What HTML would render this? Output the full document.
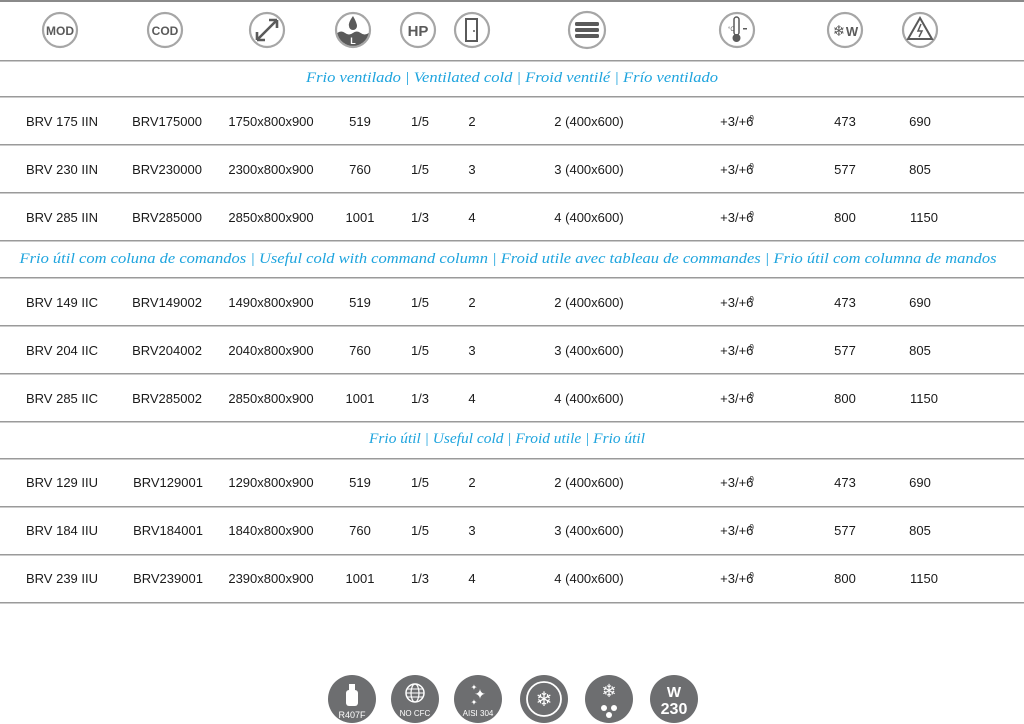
<!DOCTYPE html>
<html><head><meta charset="utf-8"><style>
html,body{margin:0;padding:0;background:#fff;width:1024px;height:724px;overflow:hidden}
svg{display:block}
.t{font-family:"Liberation Sans",sans-serif;font-size:13px;fill:#1a1a1a;text-anchor:middle}
.s{font-family:"Liberation Serif",serif;font-style:italic;font-size:15px;fill:#1ea4de;text-anchor:middle}
.ic{fill:none;stroke:#a6a6a6;stroke-width:2.2}
.it{font-family:"Liberation Sans",sans-serif;font-weight:bold;fill:#5a5a5a;text-anchor:middle}
.bt{font-family:"Liberation Sans",sans-serif;fill:#fff;text-anchor:middle}
</style></head><body>
<svg width="1024" height="724" viewBox="0 0 1024 724" xmlns="http://www.w3.org/2000/svg">
<rect x="0" y="0" width="1024" height="2" fill="#8a8a8a"/>
<g>
<circle class="ic" cx="60" cy="30" r="17"/><text class="it" x="60" y="35" font-size="12">MOD</text>
<circle class="ic" cx="165" cy="30" r="17"/><text class="it" x="165" y="35" font-size="12">COD</text>
<circle class="ic" cx="267" cy="30" r="17"/>
<path d="M257 40 L277 20 M257 40 l0 -8 M257 40 l8 0 M277 20 l-8 0 M277 20 l0 8" stroke="#5a5a5a" stroke-width="2.6" fill="none"/>
<circle class="ic" cx="353" cy="30" r="17"/>
<path d="M337.3 33 q3.9 -3 7.8 0 t7.8 0 t7.8 0 t8 0 A16 16 0 0 1 337.3 33 Z" fill="#5a5a5a"/>
<path d="M353 16 q-5 7 -4 10 a4 4 0 0 0 8 0 q0 -3 -4 -10z" fill="#5a5a5a"/>
<text x="353" y="44" font-size="9" font-weight="bold" fill="#fff" text-anchor="middle" font-family="Liberation Sans">L</text>
<circle class="ic" cx="418" cy="30" r="17"/><text class="it" x="418" y="36" font-size="15">HP</text>
<circle class="ic" cx="472" cy="30" r="17"/>
<rect x="466" y="19" width="11" height="22" fill="none" stroke="#5a5a5a" stroke-width="2"/><circle cx="474" cy="31" r="1" fill="#5a5a5a"/>
<circle class="ic" cx="587" cy="30" r="18"/>
<rect x="575" y="22" width="24" height="4" rx="1.5" fill="#5a5a5a"/><rect x="575" y="28" width="24" height="4" rx="1.5" fill="#5a5a5a"/><rect x="575" y="34" width="24" height="4" rx="1.5" fill="#5a5a5a"/>
<circle class="ic" cx="737" cy="30" r="17"/>
<rect x="734" y="17" width="5" height="18" rx="2.5" fill="none" stroke="#5a5a5a" stroke-width="1.5"/><circle cx="736.5" cy="38" r="4" fill="#5a5a5a"/>
<text x="728" y="31" font-size="6" fill="#5a5a5a" font-family="Liberation Sans">°C</text><rect x="743" y="28" width="4" height="1.5" fill="#5a5a5a"/>
<circle class="ic" cx="845" cy="30" r="17"/>
<text x="839" y="36" font-size="15" fill="#5a5a5a" font-family="DejaVu Sans" text-anchor="middle">❄</text><text class="it" x="852" y="36" font-size="13">W</text>
<circle class="ic" cx="920" cy="30" r="17"/>
<path d="M920 18 L932 39 L908 39 Z" fill="none" stroke="#5a5a5a" stroke-width="2"/><path d="M921 24 l-3 7 h4 l-3 6" stroke="#5a5a5a" stroke-width="1.5" fill="none"/>
</g>
<g fill="#9a9a9a">
<rect x="0" y="60" width="1024" height="1.5"/><rect x="0" y="96" width="1024" height="1.5"/>
<rect x="0" y="144" width="1024" height="1.5"/><rect x="0" y="192" width="1024" height="1.5"/>
<rect x="0" y="240" width="1024" height="1.5"/><rect x="0" y="277" width="1024" height="1.5"/>
<rect x="0" y="325" width="1024" height="1.5"/><rect x="0" y="373" width="1024" height="1.5"/>
<rect x="0" y="421" width="1024" height="1.5"/><rect x="0" y="458" width="1024" height="1.5"/>
<rect x="0" y="506" width="1024" height="1.5"/><rect x="0" y="554" width="1024" height="1.5"/>
<rect x="0" y="602" width="1024" height="1.5"/>
</g>
<text class="s" x="512" y="82" textLength="412" lengthAdjust="spacingAndGlyphs">Frio ventilado | Ventilated cold | Froid ventilé | Frío ventilado</text>
<text class="s" x="508" y="263" textLength="977" lengthAdjust="spacingAndGlyphs">Frio útil com coluna de comandos | Useful cold with command column | Froid utile avec tableau de commandes | Frio útil com columna de mandos</text>
<text class="s" x="507" y="443" textLength="276" lengthAdjust="spacingAndGlyphs">Frio útil | Useful cold | Froid utile | Frio útil</text>
<g class="t">
<text x="62" y="126">BRV 175 IIN</text><text x="167" y="126">BRV175000</text><text x="271" y="126">1750x800x900</text><text x="360" y="126">519</text><text x="420" y="126">1/5</text><text x="472" y="126">2</text><text x="589" y="126">2 (400x600)</text><text x="737" y="126">+3/+6<tspan dx="-4" dy="-5" font-size="8">0</tspan></text><text x="845" y="126">473</text><text x="920" y="126">690</text>
<text x="62" y="174">BRV 230 IIN</text><text x="167" y="174">BRV230000</text><text x="271" y="174">2300x800x900</text><text x="360" y="174">760</text><text x="420" y="174">1/5</text><text x="472" y="174">3</text><text x="589" y="174">3 (400x600)</text><text x="737" y="174">+3/+6<tspan dx="-4" dy="-5" font-size="8">0</tspan></text><text x="845" y="174">577</text><text x="920" y="174">805</text>
<text x="62" y="222">BRV 285 IIN</text><text x="167" y="222">BRV285000</text><text x="271" y="222">2850x800x900</text><text x="360" y="222">1001</text><text x="420" y="222">1/3</text><text x="472" y="222">4</text><text x="589" y="222">4 (400x600)</text><text x="737" y="222">+3/+6<tspan dx="-4" dy="-5" font-size="8">0</tspan></text><text x="845" y="222">800</text><text x="924" y="222">1150</text>
<text x="62" y="307">BRV 149 IIC</text><text x="167" y="307">BRV149002</text><text x="271" y="307">1490x800x900</text><text x="360" y="307">519</text><text x="420" y="307">1/5</text><text x="472" y="307">2</text><text x="589" y="307">2 (400x600)</text><text x="737" y="307">+3/+6<tspan dx="-4" dy="-5" font-size="8">0</tspan></text><text x="845" y="307">473</text><text x="920" y="307">690</text>
<text x="62" y="355">BRV 204 IIC</text><text x="167" y="355">BRV204002</text><text x="271" y="355">2040x800x900</text><text x="360" y="355">760</text><text x="420" y="355">1/5</text><text x="472" y="355">3</text><text x="589" y="355">3 (400x600)</text><text x="737" y="355">+3/+6<tspan dx="-4" dy="-5" font-size="8">0</tspan></text><text x="845" y="355">577</text><text x="920" y="355">805</text>
<text x="62" y="403">BRV 285 IIC</text><text x="167" y="403">BRV285002</text><text x="271" y="403">2850x800x900</text><text x="360" y="403">1001</text><text x="420" y="403">1/3</text><text x="472" y="403">4</text><text x="589" y="403">4 (400x600)</text><text x="737" y="403">+3/+6<tspan dx="-4" dy="-5" font-size="8">0</tspan></text><text x="845" y="403">800</text><text x="924" y="403">1150</text>
<text x="62" y="487">BRV 129 IIU</text><text x="168" y="487">BRV129001</text><text x="271" y="487">1290x800x900</text><text x="360" y="487">519</text><text x="420" y="487">1/5</text><text x="472" y="487">2</text><text x="589" y="487">2 (400x600)</text><text x="737" y="487">+3/+6<tspan dx="-4" dy="-5" font-size="8">0</tspan></text><text x="845" y="487">473</text><text x="920" y="487">690</text>
<text x="62" y="535">BRV 184 IIU</text><text x="168" y="535">BRV184001</text><text x="271" y="535">1840x800x900</text><text x="360" y="535">760</text><text x="420" y="535">1/5</text><text x="472" y="535">3</text><text x="589" y="535">3 (400x600)</text><text x="737" y="535">+3/+6<tspan dx="-4" dy="-5" font-size="8">0</tspan></text><text x="845" y="535">577</text><text x="920" y="535">805</text>
<text x="62" y="583">BRV 239 IIU</text><text x="168" y="583">BRV239001</text><text x="271" y="583">2390x800x900</text><text x="360" y="583">1001</text><text x="420" y="583">1/3</text><text x="472" y="583">4</text><text x="589" y="583">4 (400x600)</text><text x="737" y="583">+3/+6<tspan dx="-4" dy="-5" font-size="8">0</tspan></text><text x="845" y="583">800</text><text x="924" y="583">1150</text>
</g>
<g fill="#6d6e70">
<circle cx="352" cy="699" r="24"/><circle cx="415" cy="699" r="24"/><circle cx="478" cy="699" r="24"/>
<circle cx="544" cy="699" r="24"/><circle cx="609" cy="699" r="24"/><circle cx="674" cy="699" r="24"/>
</g>
<rect x="346" y="690" width="12" height="16" rx="3" fill="#fff"/><rect x="349" y="684" width="6" height="6" fill="#fff"/>
<text class="bt" x="352" y="718" font-size="9">R407F</text>
<circle cx="415" cy="693" r="9" fill="none" stroke="#fff" stroke-width="1.5"/><ellipse cx="415" cy="693" rx="4" ry="9" fill="none" stroke="#fff" stroke-width="1.2"/><path d="M406 693h18M407 689h16M407 697h16" stroke="#fff" stroke-width="1"/>
<text class="bt" x="415" y="716" font-size="8">NO CFC</text>
<text class="bt" x="480" y="699" font-size="14">✦</text><text class="bt" x="474" y="690" font-size="8">✦</text><text class="bt" x="474" y="705" font-size="8">✦</text>
<text class="bt" x="478" y="716" font-size="8">AISI 304</text>
<circle cx="544" cy="699" r="17" fill="none" stroke="#fff" stroke-width="1.8"/><text class="bt" x="544" y="706" font-size="20" font-family="DejaVu Sans">❄</text>
<text class="bt" x="609" y="697" font-size="18" font-family="DejaVu Sans">❄</text>
<circle cx="604" cy="708" r="3" fill="#fff"/><circle cx="614" cy="708" r="3" fill="#fff"/><circle cx="609" cy="715" r="3" fill="#fff"/>
<text class="bt" x="674" y="697" font-size="15" font-weight="bold">W</text><text class="bt" x="674" y="714" font-size="16" font-weight="bold">230</text>
</svg>
</body></html>
